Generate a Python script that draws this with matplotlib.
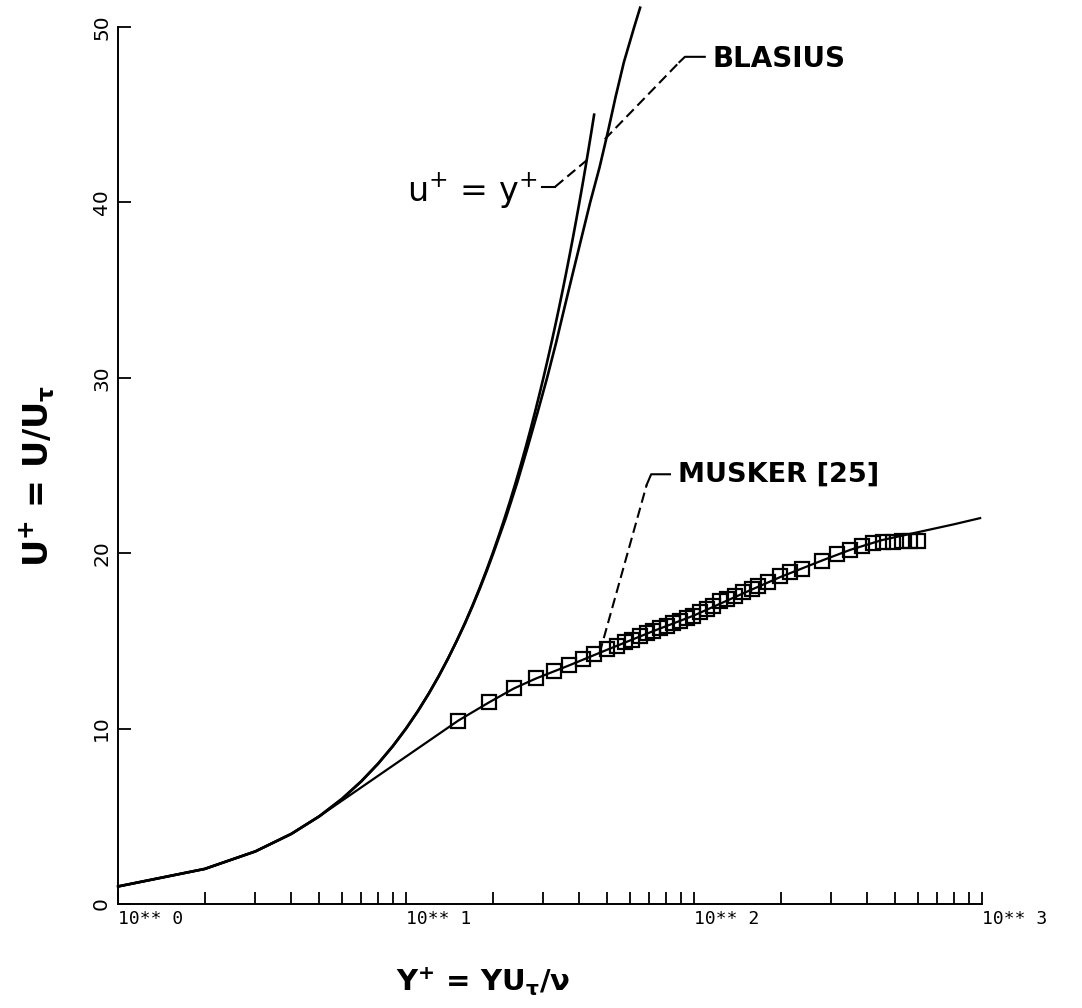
import matplotlib
matplotlib.use("Agg")
import matplotlib.pyplot as plt
from matplotlib.ticker import LogLocator, NullFormatter

# ---------------- data ----------------
# viscous sublayer u+ = y+
yplus_linear = [1, 2, 3, 4, 5, 6, 7, 8, 9, 10, 11, 12, 13, 14, 15, 16, 17, 18,
                19, 20, 21, 22, 23, 24, 25, 26, 27, 28, 29, 30, 31, 32, 33, 34,
                35, 36, 37, 38, 39, 40, 41, 42, 43, 44, 45]
uplus_linear = list(yplus_linear)  # u+ equals y+

# Blasius laminar profile in wall units
yplus_blasius = [1, 2, 3, 4, 5, 6, 7, 8, 9, 10, 11, 12, 13, 14, 15, 16.03,
                 17.04, 18.06, 19.08, 20.1, 22.2, 24.3, 26.4, 28.6, 30.9, 33.2,
                 35.5, 38.0, 40.7, 43.6, 47.0, 50.2, 53.4, 57.1, 62.0, 65.0]
uplus_blasius = [1, 2, 3, 4, 5, 6, 7, 8, 9, 10, 11, 12, 13, 14, 15, 16, 17, 18,
                 19, 20, 22, 24, 26, 28, 30, 32, 34, 36, 38, 40, 42, 44, 46, 48,
                 50, 51.1]

# Musker [25] turbulent profile
yplus_musker = [1, 2, 3, 4, 5, 15.2, 19.4, 23.7, 28.3, 36.8, 50, 72, 100, 150,
                200, 280, 350, 450, 600, 800, 985]
uplus_musker = [1, 2, 3, 4, 5, 10.46, 11.49, 12.29, 12.86, 13.6, 14.5, 15.55,
                16.45, 17.75, 18.65, 19.6, 20.2, 20.75, 21.2, 21.65, 22.0]

# measured points
yplus_data = [15.2, 19.4, 23.7, 28.3, 32.6, 36.8, 41.2, 45.0, 49.9, 54.0, 57.6,
              60.9, 64.9, 68.7, 72.1, 76.2, 80.5, 84.6, 89.4, 94.6, 99.3, 105,
              111, 116, 123, 130, 139, 148, 159, 167, 181, 199, 215, 237, 278,
              314, 348, 383, 419, 453, 491, 528, 562, 599]
uplus_data = [10.46, 11.49, 12.29, 12.86, 13.26, 13.6, 13.94, 14.23, 14.51,
              14.69, 14.91, 15.03, 15.26, 15.43, 15.54, 15.71, 15.83, 16.0,
              16.11, 16.29, 16.4, 16.63, 16.8, 16.97, 17.26, 17.37, 17.54,
              17.77, 17.94, 18.11, 18.34, 18.69, 18.91, 19.09, 19.54, 19.94,
              20.17, 20.4, 20.57, 20.63, 20.63, 20.69, 20.69, 20.69]

x_decades = [1, 10, 100, 1000]
x_tick_labels = ["10** 0", "10** 1", "10** 2", "10** 3"]
y_ticks = [0, 10, 20, 30, 40, 50]
y_tick_labels = ["0", "10", "20", "30", "40", "50"]

# ---------------- figure ----------------
W, H = 1082, 1008
fig = plt.figure(figsize=(W / 100, H / 100), dpi=100)
ax = fig.add_axes([118 / W, 1 - 904 / H, 864 / W, 877 / H])

ax.set_xscale("log")
ax.set_xlim(1, 1000)
ax.set_ylim(0, 50)

for side in ("top", "right"):
    ax.spines[side].set_visible(False)
for side in ("left", "bottom"):
    ax.spines[side].set_linewidth(1.4)

ax.xaxis.set_minor_locator(LogLocator(base=10, subs=range(2, 10)))
ax.xaxis.set_minor_formatter(NullFormatter())
ax.set_xticks(x_decades)
ax.set_xticklabels(x_tick_labels, ha="left", family="DejaVu Sans Mono",
                   fontsize=13)
ax.set_yticks(y_ticks)
ax.set_yticklabels(y_tick_labels, rotation=90, va="center", fontsize=14.5)
ax.tick_params(axis="both", which="both", direction="in", length=9,
               width=1.3, colors="black")
ax.tick_params(axis="x", which="major", pad=4)
ax.tick_params(axis="y", which="major", pad=5)

lw = 1.9
ax.plot(yplus_linear, uplus_linear, color="black", lw=lw)
ax.plot(yplus_blasius, uplus_blasius, color="black", lw=lw, clip_on=False)
ax.plot(yplus_musker, uplus_musker, color="black", lw=1.6)
ax.plot(yplus_data, uplus_data, linestyle="none", marker="s", markersize=10,
        markerfacecolor="none", markeredgecolor="black", markeredgewidth=1.6)

# ---------------- annotations ----------------
label_font = dict(family=["Liberation Sans Narrow", "DejaVu Sans"],
                  fontweight="bold", fontsize=20, color="black")
dash = dict(color="black", lw=1.5, linestyle=(0, (5, 2.5)))
solid = dict(color="black", lw=1.5)

# Blasius
ax.plot([49.0, 89], [43.6, 48.0], clip_on=False, **dash)
ax.plot([89, 93, 109], [48.0, 48.3, 48.3], clip_on=False, **solid)
ax.text(115.5, 48.2, "BLASIUS", ha="left", va="center", **label_font)

# u+ = y+
ax.text(28.7, 40.06, r"u$^{+}$ = y$^{+}$", ha="right", va="baseline",
        fontsize=24, color="black")
ax.plot([29.7, 33.0], [40.9, 40.9], **solid)
ax.plot([33.0, 42.4], [40.9, 42.4], **dash)

# Musker
ax.plot([47, 68.5], [14.3, 23.9], **dash)
ax.plot([68.5, 71, 82.5], [23.9, 24.5, 24.5], **solid)
ax.text(88, 24.5, "MUSKER [25]", ha="left", va="center",
        **{**label_font, "fontsize": 19.5})

# axis titles
ax.text(-0.0926, 0.488, r"U$^{\mathbf{+}}$ = U/U$_{\mathbf{\tau}}$",
        transform=ax.transAxes, rotation=90, ha="center", va="center",
        fontsize=24, fontweight="bold")
ax.text(0.4225, -0.089, r"Y$^{\mathbf{+}}$ = YU$_{\mathbf{\tau}}$/$\mathbf{\nu}$",
        transform=ax.transAxes, ha="center", va="center",
        fontsize=21, fontweight="bold")

fig.savefig("out.png", dpi=100, facecolor="white")
